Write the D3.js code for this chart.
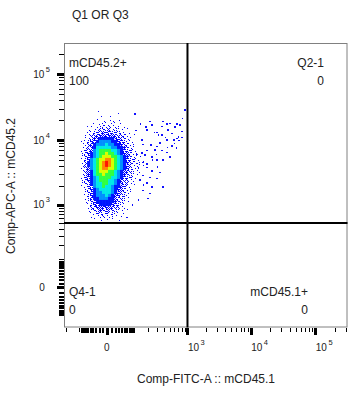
<!DOCTYPE html>
<html>
<head>
<meta charset="utf-8">
<script src="https://cdn.jsdelivr.net/npm/d3@7"></script>
<style>
    body { margin: 0; background: #fff; }
    svg { display: block; font-family: "Liberation Sans", Arial, sans-serif; }
</style>
</head>
<body>
<svg id="chart" width="364" height="394"></svg>
<script>
//Chart data
var plotTitle = 'Q1 OR Q3';
var xAxisTitle = 'Comp-FITC-A :: mCD45.1';
var yAxisTitle = 'Comp-APC-A :: mCD45.2';

var xDomain = [-215, 315000];
var yDomain = [-183, 294000];
var xLabelTicks = [0, 1000, 10000, 100000];
var yLabelTicks = [0, 1000, 10000, 100000];

//quadrant gate (FITC, APC)
var gate = [1000, 500];
var quadrantNames = ['mCD45.2+', 'Q2-1', 'mCD45.1+', 'Q4-1'];
var quadrantValues = ['100', '0', '0', '0'];

//density of the main population: FITC range, APC range (top to bottom), rows of levels 0-a
var densityFitc = [-106, 166];
var densityApc = [23120, 482];
var densityRows = [
    '0000000100100000000000',
    '0000001010110100000000',
    '0000010111011010000000',
    '0000101121211101000000',
    '0001011222212110100000',
    '0001122232322211010000',
    '0011223333333222101000',
    '0011233444443322110000',
    '0112334555544332111000',
    '0112345556554432211000',
    '0112346666655443211000',
    '0122356777766543221100',
    '0123456778776543321100',
    '0123456788877654321110',
    '0123567889987654322110',
    '012456789a987654322111',
    '012456789a987654321111',
    '0123567899887654321110',
    '0123467888776543321110',
    '0123467787776543221100',
    '0123456777766543221100',
    '0123456777665432211000',
    '0122456677665432211000',
    '0112356676654432110000',
    '0012345666654332110000',
    '0012345566654322110000',
    '0012345556543322100000',
    '0011344555443221100000',
    '0011234444443221100000',
    '0001233444433211000000',
    '0001223333332211000000',
    '0001122323222110100000',
    '0000112212121101000000',
    '0000101121111010000000',
    '0000010101010100000000',
    '0000001000100000000000'
];

//single events outside the dense core (FITC, APC)
var sparseEvents = [
    [104, 24800], [182, 15800], [220, 19000], [385, 19000], [509, 18000],
    [619, 15800], [751, 16900], [820, 21500], [909, 28500], [700, 11100],
    [590, 10000], [339, 9000], [460, 7800], [650, 7600], [509, 5500],
    [385, 4970], [300, 3900], [339, 3200], [220, 2700], [136, 2450],
    [220, 1500], [385, 1900], [200, 1260], [125, 1190], [62, 620],
    [274, 7060], [174, 5920], [320, 11900], [470, 14200], [150, 10000],
    [245, 4970], [125, 3700], [160, 2050], [90, 990], [230, 8400],
    [270, 13000], [420, 11000], [560, 12500], [150, 6400], [190, 4300],
    [290, 6000], [600, 8800], [720, 9800], [110, 14000], [-60, 16000],
    [140, 17500], [191, 14200], [240, 16930], [368, 16000], [451, 17500],
    [670, 17500], [811, 13500], [551, 12500], [670, 10500], [298, 8000],
    [368, 7000], [451, 6500], [191, 7000], [240, 5500], [298, 5000],
    [158, 4600], [191, 3800], [240, 3400], [158, 2900], [298, 2600],
    [191, 2200], [158, 1700], [240, 1900], [116, 4400], [116, 6000],
    [158, 8500], [551, 8200], [811, 11000], [368, 12000], [451, 10000],
    [298, 13000], [-20, 27000], [30, 25500]
];

var levelColors = ['#fff', '#0000ff', '#0000ff', '#0000ff', '#0018ff', '#0090ff',
    '#00e8e8', '#30ff40', '#d8ff00', '#ff8800', '#ff1800'];

var svg = d3.select('#chart');

var plotLeft = 64, plotRight = 347.5, plotTop = 43, plotBottom = 327.5;

var x = d3.scaleSymlog().constant(60).domain(xDomain).range([plotLeft, plotRight]);
var y = d3.scaleSymlog().constant(60).domain(yDomain).range([plotBottom, plotTop]);

//logicle style ticks: every m*10^k inside the domain
function logicleTicks(domain, labelled) {
    var ticks = [{ value: 0, kind: 'major' }];
    for (var k = 1; k <= 5; k++) {
        for (var m = 1; m <= 9; m++) {
            var v = m * Math.pow(10, k),
                kind = k === 1 ? 'linear' : 'minor';
            if (v <= domain[1]) ticks.push({ value: v, kind: labelled.indexOf(v) >= 0 ? 'major' : kind });
            if (-v >= domain[0]) ticks.push({ value: -v, kind: kind });
        }
    }
    return ticks;
}

var tickLength = { major: 7, linear: 5, minor: 4 },
    tickWidth = { major: 3, linear: 2, minor: 1 };

function px(v) { return Math.round(v) + 0.5; }

svg.append('defs')
    .append('filter')
    .attr('id', 'soften')
    .append('feGaussianBlur')
    .attr('stdDeviation', 0.6);

var plot = svg.append('g');

//density cells
var gx = d3.scaleLinear().domain([0, densityRows[0].length]).range([x(densityFitc[0]), x(densityFitc[1])]);
var gy = d3.scaleLinear().domain([0, densityRows.length]).range([y(densityApc[0]), y(densityApc[1])]);
var cellW = gx(1) - gx(0), cellH = gy(1) - gy(0);

var cells = [];
densityRows.forEach(function(row, r) {
    row.split('').forEach(function(ch, c) {
        var level = parseInt(ch, 16);
        if (level > 0) cells.push({ r: r, c: c, level: level });
    });
});

//sparse levels drawn as single events with an ordered dither inside the cell
var ditherOrder = [4, 0, 8, 2, 6, 1, 7, 3, 5];
var dots = [];
cells.forEach(function(d) {
    if (d.level >= 4) return;
    var shift = (d.r * 5 + d.c * 3) % 9,
        count = d.level * 2 - 1;
    for (var i = 0; i < count; i++) {
        var s = ditherOrder[(i + shift) % 9];
        dots.push({ x: gx(d.c) + (s % 3) * cellW / 3, y: gy(d.r) + Math.floor(s / 3) * cellH / 3 });
    }
});

plot.append('g')
    .attr('class', 'density-fill')
    .attr('filter', 'url(#soften)')
    .selectAll('rect')
    .data(cells.filter(function(d) { return d.level >= 4; }))
    .enter()
        .append('rect')
        .attr('x', function(d) { return gx(d.c) - 0.1; })
        .attr('y', function(d) { return gy(d.r) - 0.1; })
        .attr('width', cellW + 0.2)
        .attr('height', cellH + 0.2)
        .attr('fill', function(d) { return levelColors[d.level]; });

plot.append('g')
    .attr('class', 'density-dots')
    .attr('shape-rendering', 'crispEdges')
    .selectAll('rect')
    .data(dots)
    .enter()
        .append('rect')
        .attr('x', function(d) { return d.x; })
        .attr('y', function(d) { return d.y; })
        .attr('width', 1.2)
        .attr('height', 1.2)
        .attr('fill', '#0000ff');

plot.append('g')
    .attr('class', 'sparse-events')
    .attr('shape-rendering', 'crispEdges')
    .selectAll('rect')
    .data(sparseEvents)
    .enter()
        .append('rect')
        .attr('x', function(d) { return x(d[0]) - 0.6; })
        .attr('y', function(d) { return y(d[1]) - 0.6; })
        .attr('width', 1.4)
        .attr('height', 1.4)
        .attr('fill', '#1010ff');

//frame
svg.append('rect')
    .attr('x', plotLeft + 0.5)
    .attr('y', plotTop + 0.5)
    .attr('width', plotRight - plotLeft - 1)
    .attr('height', plotBottom - plotTop - 1)
    .attr('fill', 'none')
    .attr('stroke', '#808080')
    .attr('stroke-width', 1);

//quadrant gate lines
svg.append('line')
    .attr('x1', x(gate[0])).attr('x2', x(gate[0]))
    .attr('y1', plotTop).attr('y2', plotBottom)
    .attr('stroke', '#000').attr('stroke-width', 2);
svg.append('line')
    .attr('x1', plotLeft).attr('x2', plotRight)
    .attr('y1', y(gate[1])).attr('y2', y(gate[1]))
    .attr('stroke', '#000').attr('stroke-width', 2);

//x axis ticks
var xTicks = svg.append('g').attr('class', 'x-ticks').attr('shape-rendering', 'crispEdges');
xTicks.selectAll('line')
    .data(logicleTicks(xDomain, xLabelTicks))
    .enter()
        .append('line')
        .attr('x1', function(d) { return px(x(d.value)); })
        .attr('x2', function(d) { return px(x(d.value)); })
        .attr('y1', plotBottom)
        .attr('y2', function(d) { return plotBottom + tickLength[d.kind]; })
        .attr('stroke', '#000')
        .attr('stroke-width', function(d) { return tickWidth[d.kind]; });

//y axis ticks
var yTicks = svg.append('g').attr('class', 'y-ticks').attr('shape-rendering', 'crispEdges');
yTicks.selectAll('line')
    .data(logicleTicks(yDomain, yLabelTicks))
    .enter()
        .append('line')
        .attr('y1', function(d) { return px(y(d.value)); })
        .attr('y2', function(d) { return px(y(d.value)); })
        .attr('x1', plotLeft)
        .attr('x2', function(d) { return plotLeft - tickLength[d.kind] - (d.kind === 'minor' ? 1 : 0); })
        .attr('stroke', '#000')
        .attr('stroke-width', function(d) { return tickWidth[d.kind]; });

function writeTickLabel(sel, v) {
    if (v === 0) {
        sel.text('0');
        return;
    }
    sel.append('tspan').text('10');
    sel.append('tspan')
        .attr('font-size', 7.5)
        .attr('dy', -6)
        .attr('dx', 1.5)
        .text(Math.round(Math.log10(v)));
}

svg.append('g')
    .selectAll('text')
    .data(xLabelTicks)
    .enter()
        .append('text')
        .attr('x', function(d) { return d === 0 ? x(d) : x(d) + 0.5; })
        .attr('y', 351)
        .attr('font-size', 10)
        .attr('fill', '#222')
        .attr('text-anchor', function(d) { return d === 0 ? 'middle' : 'start'; })
        .each(function(d) { writeTickLabel(d3.select(this), d); });

svg.append('g')
    .selectAll('text')
    .data(yLabelTicks)
    .enter()
        .append('text')
        .attr('x', function(d) { return d === 0 ? 42 : 50; })
        .attr('y', function(d) { return y(d) + 3.6; })
        .attr('font-size', 10)
        .attr('fill', '#222')
        .attr('text-anchor', function(d) { return d === 0 ? 'middle' : 'end'; })
        .each(function(d) { writeTickLabel(d3.select(this), d); });

//titles
svg.append('text')
    .attr('x', 72).attr('y', 19)
    .attr('font-size', 12).attr('fill', '#222')
    .text(plotTitle);

svg.append('text')
    .attr('x', 206).attr('y', 383)
    .attr('font-size', 12).attr('fill', '#222')
    .attr('text-anchor', 'middle')
    .text(xAxisTitle);

svg.append('text')
    .attr('transform', 'translate(15,186) rotate(-90)')
    .attr('font-size', 12).attr('fill', '#222')
    .attr('text-anchor', 'middle')
    .text(yAxisTitle);

//quadrant labels: name and percentage
var quadrantPos = [
    { x: 69, y: 67, anchor: 'start' },
    { x: 324, y: 67, anchor: 'end' },
    { x: 308, y: 296, anchor: 'end' },
    { x: 69, y: 296, anchor: 'start' }
];

var qLabels = svg.append('g').attr('class', 'quadrant-labels');
quadrantNames.forEach(function(name, i) {
    var p = quadrantPos[i];
    qLabels.append('text')
        .attr('x', p.x).attr('y', p.y)
        .attr('font-size', 12).attr('fill', '#222')
        .attr('text-anchor', p.anchor)
        .text(name);
    qLabels.append('text')
        .attr('x', p.x).attr('y', p.y + 18)
        .attr('font-size', 12).attr('fill', '#222')
        .attr('text-anchor', p.anchor)
        .text(quadrantValues[i]);
});
</script>
</body>
</html>
